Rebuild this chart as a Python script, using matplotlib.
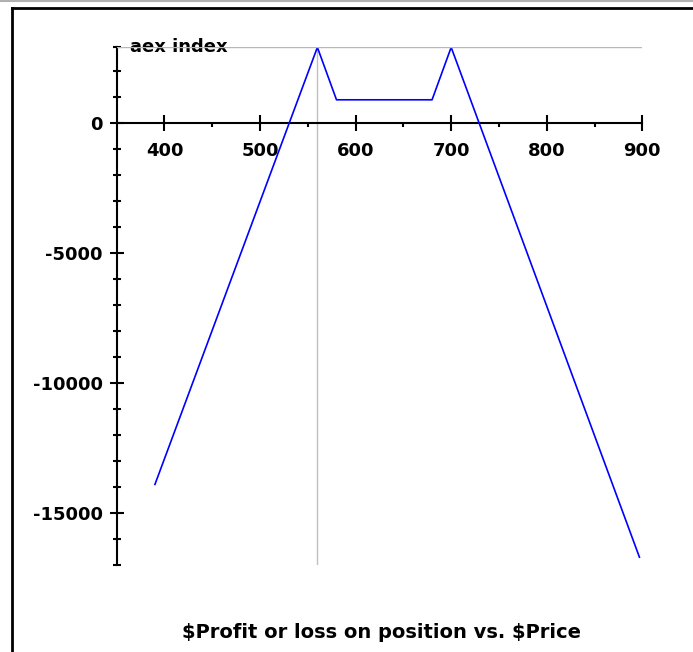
import numpy as np
import matplotlib.pyplot as plt
from matplotlib.lines import Line2D
from matplotlib.ticker import FixedLocator, FixedFormatter

plt.rcParams['font.family'] = ['DejaVu Sans']
plt.rcParams['font.weight'] = 'bold'
plt.rcParams['axes.unicode_minus'] = False

# profit/loss curve vertices (price, P/L)
price = [390, 560, 580, 680, 700, 897]
pnl = [-13900, 2920, 900, 900, 2920, -16700]

x_major = [400, 500, 600, 700, 800, 900]
x_minor = [450, 550, 650, 750, 850]
y_major = [-15000, -10000, -5000, 0]
y_labels = ['-15000', '-10000', '-5000', '0']
y_minor = [-17000, -16000, -14000, -13000, -12000, -11000, -9000, -8000,
           -7000, -6000, -4000, -3000, -2000, -1000, 1000, 2000, 2920]

peak_y = 2920
cross_x = 560
xmin, xmax = 350, 900
ymin, ymax = -17000, 2920

fig = plt.figure(figsize=(6.93, 6.52), dpi=100)
ax = fig.add_axes([116.7 / 693, 1 - 565 / 652, 525.6 / 693, (565 - 47.3) / 652])

# reference lines
ax.plot([xmin, xmax], [peak_y, peak_y], color='#b8b8b8', lw=1, zorder=5)
ax.plot([cross_x, cross_x], [ymin, ymax], color='#c0c0c0', lw=1, zorder=1)

ax.plot(price, pnl, color='#0000ff', lw=1.2, zorder=3)

ax.set_xlim(xmin, xmax)
ax.set_ylim(ymin, ymax)

for s in ['top', 'right']:
    ax.spines[s].set_visible(False)
ax.spines['bottom'].set_position(('data', 0))
ax.spines['bottom'].set_linewidth(1.5)
ax.spines['left'].set_linewidth(1.5)

ax.xaxis.set_major_locator(FixedLocator(x_major))
ax.xaxis.set_minor_locator(FixedLocator(x_minor))
ax.yaxis.set_major_locator(FixedLocator(y_major))
ax.yaxis.set_major_formatter(FixedFormatter(y_labels))
ax.yaxis.set_minor_locator(FixedLocator(y_minor))

ax.tick_params(axis='x', which='major', direction='inout', length=11, width=1.5,
               pad=8, labelsize=13)
ax.tick_params(axis='x', which='minor', direction='out', length=3, width=1.5)
ax.tick_params(axis='y', which='major', direction='inout', length=10, width=1.5,
               pad=5, labelsize=13)
ax.tick_params(axis='y', which='minor', direction='inout', length=6, width=1.5)

ax.text(0.025, peak_y, 'aex index', fontsize=13, fontweight='bold',
        ha='left', va='center', zorder=4,
        transform=ax.get_yaxis_transform())

fig.text(381 / 693, 1 - 633 / 652, '\\$Profit or loss on position vs. \\$Price',
         fontsize=14, fontweight='bold', ha='center', va='center')

# window frame
fig.add_artist(Line2D([12 / 693, 12 / 693], [0, 1 - 8 / 652], color='black',
                      lw=2, transform=fig.transFigure))
fig.add_artist(Line2D([12 / 693, 1], [1 - 8 / 652, 1 - 8 / 652], color='black',
                      lw=2, transform=fig.transFigure))
fig.add_artist(Line2D([0, 1], [1 - 0.5 / 652, 1 - 0.5 / 652], color='#b0b0b0',
                      lw=1.5, transform=fig.transFigure))

fig.savefig('out.png', dpi=100)
